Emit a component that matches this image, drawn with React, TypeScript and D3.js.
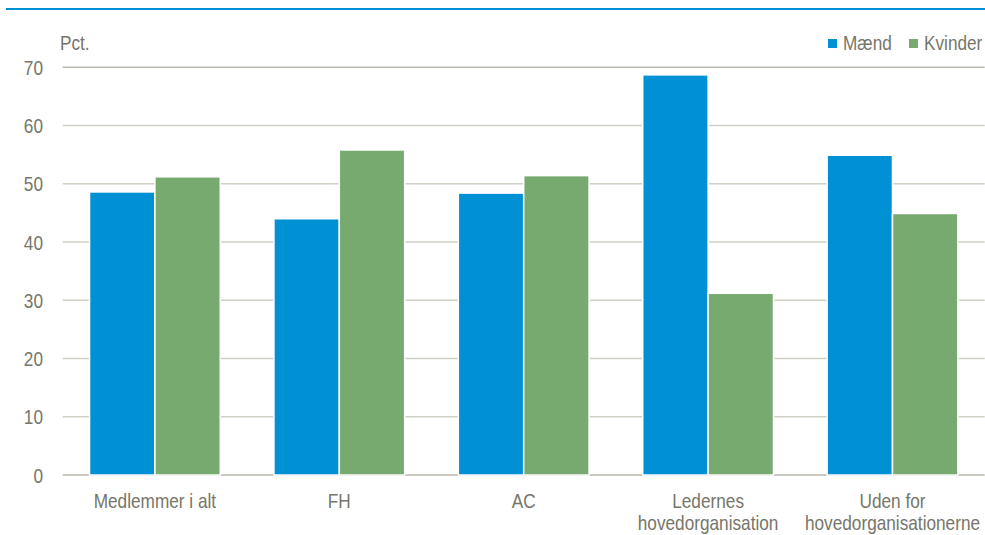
import * as d3 from 'd3'
import type { ReactNode } from 'react'

const WIDTH = 985
const HEIGHT = 535
const PLOT = { left: 62.7, right: 984.7, top: 67.3, bottom: 475 }

const CATEGORIES = ['Medlemmer i alt', 'FH', 'AC', 'Ledernes hovedorganisation', 'Uden for hovedorganisationerne']
const CATEGORY_LINES = [['Medlemmer i alt'], ['FH'], ['AC'], ['Ledernes', 'hovedorganisation'], ['Uden for', 'hovedorganisationerne']]
const SERIES = ['Mænd', 'Kvinder']
const MAEND = [48.6, 44.0, 48.4, 68.7, 54.9]
const KVINDER = [51.2, 55.8, 51.4, 31.2, 44.9]
const Y_TICKS = [0, 10, 20, 30, 40, 50, 60, 70]
const COLORS = ['#0090d4', '#77aa6f']

// no narrow font installed: squeeze Liberation Sans horizontally instead
const FONT = "'Liberation Sans', Arial, sans-serif"
const TEXT_COLOR = '#76766a'
const SQUEEZE = 0.82
const FONT_SIZE = 21

function NarrowText({ x, y, anchor = 'start', children }: { x: number; y: number; anchor?: string; children: ReactNode }) {
  return (
    <text
      transform={`translate(${x},${y}) scale(${SQUEEZE},1)`}
      textAnchor={anchor}
      fontSize={FONT_SIZE}
      fill={TEXT_COLOR}
    >
      {children}
    </text>
  )
}

export default function App() {
  const x = d3
    .scaleBand<string>()
    .domain(CATEGORIES)
    .range([PLOT.left, PLOT.right])
    .paddingInner(0.291)
    .paddingOuter(0.1455)
  const inner = d3.scaleBand<string>().domain(SERIES).range([0, x.bandwidth()])
  const y = d3.scaleLinear().domain([0, 70]).range([PLOT.bottom, PLOT.top])
  const values = [MAEND, KVINDER]

  return (
    <svg
      width={WIDTH}
      height={HEIGHT}
      style={{ position: 'absolute', left: 0, top: 0, background: '#fff' }}
      fontFamily={FONT}
    >
      <line x1={6} x2={WIDTH} y1={9} y2={9} stroke="#0090d4" strokeWidth={2} />

      {Y_TICKS.map((tick) => (
        <g key={tick}>
          <line
            x1={PLOT.left}
            x2={PLOT.right}
            y1={y(tick)}
            y2={y(tick)}
            stroke={tick === 0 || tick === 70 ? '#b9b9ad' : '#cfcfc6'}
            strokeWidth={1.5}
          />
          <NarrowText x={43} y={y(tick) + 7.5} anchor="end">{tick}</NarrowText>
        </g>
      ))}

      <NarrowText x={60} y={50}>Pct.</NarrowText>

      {CATEGORIES.map((cat, i) => (
        <g key={cat} transform={`translate(${x(cat)},0)`}>
          {SERIES.map((s, j) => (
            <rect
              key={s}
              x={inner(s)}
              y={y(values[j][i])}
              width={inner.bandwidth()}
              height={y(0) - y(values[j][i])}
              fill={COLORS[j]}
              stroke="#fff"
              strokeWidth={1.5}
            />
          ))}
          {CATEGORY_LINES[i].map((line, k) => (
            <NarrowText key={k} x={x.bandwidth() / 2} y={508 + k * 22} anchor="middle">
              {line}
            </NarrowText>
          ))}
        </g>
      ))}

      {SERIES.map((s, j) => {
        const lx = [828, 909][j]
        return (
          <g key={s}>
            <rect x={lx} y={39} width={9} height={9} fill={COLORS[j]} />
            <NarrowText x={lx + 15} y={50}>{s}</NarrowText>
          </g>
        )
      })}
    </svg>
  )
}
